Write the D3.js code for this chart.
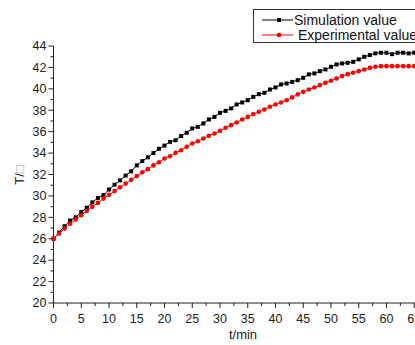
<!DOCTYPE html>
<html>
<head>
<meta charset="utf-8">
<script src="https://cdn.jsdelivr.net/npm/d3@7"></script>
<style>
  body { margin: 0; background: #fff; }
  svg { display: block; font-family: "Liberation Sans", Arial, sans-serif; }
</style>
</head>
<body>
<svg class="chart" width="415" height="345"></svg>
<script>
// time in minutes, one sample per minute
const minutes = d3.range(0, 66)

const simulation = [
  26.0, 26.58, 27.17, 27.7, 28.0, 28.5, 28.9, 29.4, 29.8, 30.07,
  30.6, 31.05, 31.45, 31.9, 32.3, 32.85, 33.25, 33.6, 34.0, 34.4,
  34.7, 35.05, 35.2, 35.6, 35.9, 36.3, 36.45, 36.77, 37.14, 37.38,
  37.76, 37.94, 38.17, 38.54, 38.73, 38.94, 39.25, 39.5, 39.63, 39.94,
  40.13, 40.41, 40.5, 40.65, 40.81, 41.03, 41.35, 41.44, 41.65, 41.81,
  42.06, 42.28, 42.37, 42.43, 42.52, 42.75, 42.99, 43.15, 43.31, 43.37,
  43.37, 43.24, 43.37, 43.37, 43.31, 43.37
]

const experimental = [
  26.0, 26.5, 26.95, 27.4, 27.8, 28.2, 28.6, 29.0, 29.35, 29.75,
  30.1, 30.45, 30.8, 31.15, 31.5, 31.85, 32.2, 32.5, 32.85, 33.15,
  33.49, 33.71, 34.02, 34.27, 34.58, 34.9, 35.11, 35.36, 35.61, 35.83,
  36.07, 36.36, 36.61, 36.86, 37.14, 37.38, 37.64, 37.85, 38.07, 38.32,
  38.54, 38.73, 38.94, 39.2, 39.48, 39.72, 39.94, 40.13, 40.35, 40.56,
  40.75, 40.97, 41.19, 41.37, 41.5, 41.65, 41.81, 41.96, 42.06, 42.12,
  42.12, 42.12, 42.12, 42.12, 42.12, 42.12
]

const xTicks = [0, 5, 10, 15, 20, 25, 30, 35, 40, 45, 50, 55, 60, 65]
const yTicks = [20, 22, 24, 26, 28, 30, 32, 34, 36, 38, 40, 42, 44]
const seriesNames = ['Simulation value', 'Experimental value']

const svg = d3.select('.chart')

const x = d3.scaleLinear().domain([0, 60]).range([53.5, 386.5])
const y = d3.scaleLinear().domain([20, 44]).range([303, 46])

const axisColor = '#222'

// y axis
const yAxis = svg.append('g')
  .attr('transform', `translate(${x(0)},0)`)
yAxis.append('line')
  .attr('y1', y(20)).attr('y2', y(44))
  .attr('stroke', axisColor)
yAxis.selectAll('.minor')
  .data(d3.range(21, 44, 2))
  .join('line')
  .attr('x1', -3).attr('x2', 0)
  .attr('y1', d => y(d)).attr('y2', d => y(d))
  .attr('stroke', axisColor)
yAxis.selectAll('.major')
  .data(yTicks)
  .join('line')
  .attr('x1', -5).attr('x2', 0)
  .attr('y1', d => y(d)).attr('y2', d => y(d))
  .attr('stroke', axisColor)
yAxis.selectAll('text')
  .data(yTicks)
  .join('text')
  .attr('x', -7)
  .attr('y', d => y(d) + 4.3)
  .attr('text-anchor', 'end')
  .attr('font-size', 12.5)
  .attr('fill', '#222')
  .text(d => d)

// x axis
const xAxis = svg.append('g')
  .attr('transform', `translate(0,${y(20)})`)
xAxis.append('line')
  .attr('x1', x(0)).attr('x2', 415)
  .attr('stroke', axisColor)
xAxis.selectAll('.minor')
  .data(d3.range(2.5, 66, 5))
  .join('line')
  .attr('x1', d => x(d)).attr('x2', d => x(d))
  .attr('y1', 0).attr('y2', 3)
  .attr('stroke', axisColor)
xAxis.selectAll('.major')
  .data(xTicks)
  .join('line')
  .attr('x1', d => x(d)).attr('x2', d => x(d))
  .attr('y1', 0).attr('y2', 5)
  .attr('stroke', axisColor)
xAxis.selectAll('text')
  .data(xTicks)
  .join('text')
  .attr('x', d => x(d))
  .attr('y', 19.5)
  .attr('text-anchor', 'middle')
  .attr('font-size', 12.5)
  .attr('fill', '#222')
  .text(d => d)

// axis titles
svg.append('text')
  .attr('x', 243).attr('y', 339)
  .attr('text-anchor', 'middle')
  .attr('font-size', 13)
  .attr('fill', '#222')
  .text('t/min')

const yTitle = svg.append('text')
  .attr('transform', 'translate(24,175) rotate(-90)')
  .attr('text-anchor', 'middle')
  .attr('font-size', 13)
  .attr('fill', '#222')
yTitle.append('tspan').text('T/')
yTitle.append('tspan').attr('fill', '#999').text('□')

// series
const line = d3.line()
  .x((d, i) => x(minutes[i]))
  .y(d => y(d))

svg.append('path')
  .attr('d', line(simulation))
  .attr('fill', 'none')
  .attr('stroke', '#000')
  .attr('stroke-width', 1)

svg.append('path')
  .attr('d', line(experimental))
  .attr('fill', 'none')
  .attr('stroke', '#ff0000')
  .attr('stroke-width', 1)

svg.append('g')
  .selectAll('rect')
  .data(simulation)
  .join('rect')
  .attr('x', (d, i) => x(minutes[i]) - 2)
  .attr('y', d => y(d) - 2)
  .attr('width', 4)
  .attr('height', 4)
  .attr('fill', '#000')

svg.append('g')
  .selectAll('circle')
  .data(experimental)
  .join('circle')
  .attr('cx', (d, i) => x(minutes[i]))
  .attr('cy', d => y(d))
  .attr('r', 2.3)
  .attr('fill', '#ff0000')

// legend
const legend = svg.append('g')
legend.append('rect')
  .attr('x', 253.5).attr('y', 9.5)
  .attr('width', 170).attr('height', 33)
  .attr('fill', '#fff')
  .attr('stroke', '#333')

const legendColors = ['#000', '#ff0000']
seriesNames.forEach((name, i) => {
  const ly = 20 + i * 15
  legend.append('line')
    .attr('x1', 262).attr('x2', 293)
    .attr('y1', ly).attr('y2', ly)
    .attr('stroke', legendColors[i])
  if (i === 0) {
    legend.append('rect')
      .attr('x', 277).attr('y', ly - 2)
      .attr('width', 4).attr('height', 4)
      .attr('fill', '#000')
  } else {
    legend.append('circle')
      .attr('cx', 279).attr('cy', ly)
      .attr('r', 2.3)
      .attr('fill', '#ff0000')
  }
  legend.append('text')
    .attr('x', i === 0 ? 294 : 298)
    .attr('y', ly + 5)
    .attr('font-size', 14)
    .attr('fill', '#111')
    .text(name)
})
</script>
</body>
</html>
